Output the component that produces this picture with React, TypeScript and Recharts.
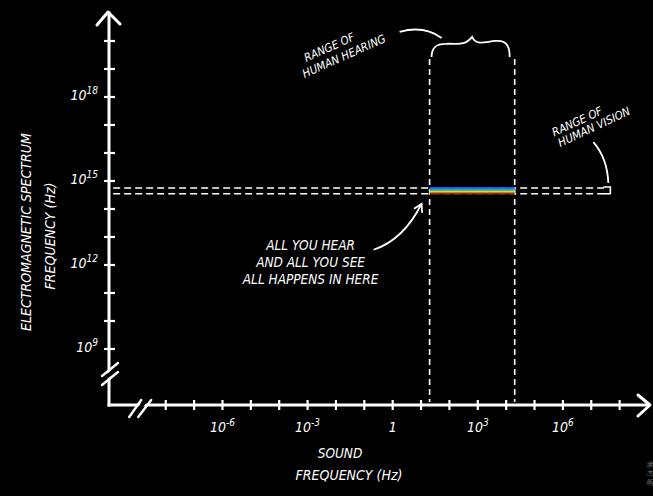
import { ScatterChart, Scatter, XAxis, YAxis, ReferenceArea, ReferenceDot } from 'recharts';

// sound frequency axis (Hz); drawn on a log10 scale
const soundTicks = [1e-8, 1e-7, 1e-6, 1e-5, 1e-4, 1e-3, 1e-2, 1e-1, 1, 1e1, 1e2, 1e3, 1e4, 1e5, 1e6, 1e7, 1e8];
// electromagnetic frequency axis (Hz); log10 scale too
const emTicks = [1e9, 1e10, 1e11, 1e12, 1e13, 1e14, 1e15, 1e16, 1e17, 1e18, 1e19, 1e20];

// ranges
const hearingRange = [20, 20000]; // Hz
const visionRange = [3.5e14, 5.6e14]; // Hz

// axis extents and how far the guide lines are drawn
const soundDomain = [1e-10, 1e9];
const emDomain = [1e7, 1e21];
const hearingLineTop = 2.7e19;
const visionLineFrom = 1.4e-10;
const visionLineTo = 4e7;

const lg = (v: number) => Math.log10(v);

// corners of the "you hear / you see" box
const corners = [
  { s: lg(hearingRange[0]), em: lg(visionRange[0]) },
  { s: lg(hearingRange[1]), em: lg(visionRange[1]) },
];

const hand = {
  fontFamily: "'DejaVu Sans Condensed', 'Liberation Sans Narrow', 'DejaVu Sans', sans-serif",
  fontStyle: 'italic' as const,
};

const SoundTick = (props: any) => {
  const { x, y, payload } = props;
  const e = Math.round(payload.value);
  return (
    <g>
      <line x1={x} x2={x} y1={y - 5} y2={y + 5} stroke="#fff" strokeWidth={2.2} />
      {e % 3 === 0 && (
        <text x={x} y={y + 27} textAnchor="middle" fill="#fff" fontSize={14} style={hand}>
          {e === 0 ? '1' : (
            <>
              10<tspan dy={-6} fontSize={10}>{e}</tspan>
            </>
          )}
        </text>
      )}
    </g>
  );
};

const EmTick = (props: any) => {
  const { x, y, payload } = props;
  const e = Math.round(payload.value);
  return (
    <g>
      <line x1={x - 5} x2={x + 6} y1={y} y2={y} stroke="#fff" strokeWidth={2.2} />
      {e % 3 === 0 && (
        <text x={x - 11} y={y + 3} textAnchor="end" fill="#fff" fontSize={14} style={hand}>
          10<tspan dy={-6} fontSize={10}>{e}</tspan>
        </text>
      )}
    </g>
  );
};

const XTitle = (props: any) => {
  const vb = props.viewBox ?? { x: 109, y: 405, width: 539, height: 30 };
  const sx = vb.x + vb.width - 2;
  return (
    <g fill="#fff" style={hand}>
      <text x={vb.x + 231} y={vb.y + 53} textAnchor="middle" fontSize={13.5}>SOUND</text>
      <text x={vb.x + 240} y={vb.y + 75} textAnchor="middle" fontSize={14}>FREQUENCY (Hz)</text>
      <text fontSize={7} fill="#777" style={{ fontFamily: "'Noto Sans CJK SC'" }}>
        <tspan x={sx} y={vb.y + 62}>余</tspan>
        <tspan x={sx} y={vb.y + 71}>杰</tspan>
        <tspan x={sx} y={vb.y + 80}>明</tspan>
      </text>
    </g>
  );
};

const YTitle = (props: any) => {
  const vb = props.viewBox ?? { x: 49, y: 13, width: 60, height: 392 };
  const cy = vb.y + 219;
  return (
    <g fill="#fff" style={hand} fontSize={14}>
      <text transform={`translate(${vb.x - 18},${cy}) rotate(-90)`} textAnchor="middle">ELECTROMAGNETIC SPECTRUM</text>
      <text transform={`translate(${vb.x + 6},${cy + 4}) rotate(-90)`} textAnchor="middle">FREQUENCY (Hz)</text>
    </g>
  );
};

const HearingBand = (p: any) => {
  const { x, y, width, height } = p;
  const r = x + width;
  const b = y + height;
  const m = (x + r) / 2;
  return (
    <g fill="none" stroke="#fff" strokeWidth={1.6}>
      <line x1={x} x2={x} y1={y + 2} y2={b - 3} strokeDasharray="6 4" />
      <line x1={r} x2={r} y1={y + 2} y2={b - 3} strokeDasharray="6 4" />
      <path
        strokeWidth={1.8}
        d={`M${x + 2},${y} C${x + 2},${y - 9} ${x + 6},${y - 13} ${x + 16},${y - 13} C${m - 16},${y - 14} ${m - 8},${y - 10} ${m},${y - 20} C${m + 4},${y - 11} ${m + 12},${y - 15} ${r - 19},${y - 16} C${r - 9},${y - 17} ${r - 5},${y - 12} ${r - 5},${y}`}
      />
      <path strokeWidth={1.8} d={`M${x - 30},${y - 25} Q${x - 6},${y - 32} ${x + 12},${y - 19}`} />
      <g transform={`translate(${x - 125},${y + 21}) rotate(-24)`} fill="#fff" stroke="none" style={hand} fontSize={11.5}>
        <text x={8} y={-14}>RANGE  OF</text>
        <text x={0} y={0}>HUMAN HEARING</text>
      </g>
    </g>
  );
};

const VisionBand = (p: any) => {
  const { x, y, width, height } = p;
  const r = x + width;
  const b = y + height;
  return (
    <g fill="none" stroke="#fff" strokeWidth={1.6}>
      <line x1={x} x2={r - 2} y1={y} y2={y} strokeDasharray="7 4" />
      <line x1={x} x2={r - 2} y1={b} y2={b} strokeDasharray="7 4" />
      <path d={`M${r - 5},${y - 1} H${r + 2} V${b} H${r - 5}`} />
      <path strokeWidth={1.8} d={`M${r - 15},${y - 46} Q${r - 1},${y - 30} ${r},${y - 5}`} />
      <g transform={`translate(${r - 48},${y - 41}) rotate(-25)`} fill="#fff" stroke="none" style={hand} fontSize={11.5}>
        <text x={-1} y={-12}>RANGE  OF</text>
        <text x={0} y={0}>HUMAN VISION</text>
      </g>
    </g>
  );
};

// the visible spectrum, slightly taller so it covers the dashed edges
const SpectrumBar = (p: any) => (
  <rect x={p.x} y={p.y - 1} width={p.width} height={p.height + 2} fill="url(#spectrum)" />
);

const HereNote = (p: any) => {
  const { cx, cy } = p;
  const tx = cx - 8;
  const ty = cy + 10;
  return (
    <g>
      <path d={`M${cx - 56},${cy + 56} Q${cx - 26},${cy + 46} ${tx},${ty}`} fill="none" stroke="#fff" strokeWidth={1.8} />
      <path d={`M${tx - 7.5},${ty + 5} L${tx},${ty} L${tx + 0.5},${ty + 9}`} fill="none" stroke="#fff" strokeWidth={1.8} />
      <g fill="#fff" style={hand} fontSize={13.5} textAnchor="middle">
        <text x={cx - 119} y={cy + 56}>ALL YOU HEAR</text>
        <text x={cx - 119} y={cy + 73}>AND ALL YOU SEE</text>
        <text x={cx - 119} y={cy + 90}>ALL HAPPENS IN HERE</text>
      </g>
    </g>
  );
};

const ArrowRight = (p: any) => (
  <path d={`M${p.cx - 10},${p.cy - 10} L${p.cx + 2},${p.cy} L${p.cx - 10},${p.cy + 11}`} fill="none" stroke="#fff" strokeWidth={3} strokeLinecap="round" strokeLinejoin="round" />
);

const ArrowUp = (p: any) => (
  <path d={`M${p.cx - 12},${p.cy + 12} L${p.cx - 1},${p.cy - 1} L${p.cx + 11},${p.cy + 11}`} fill="none" stroke="#fff" strokeWidth={3} strokeLinecap="round" strokeLinejoin="round" />
);

const BreakX = (p: any) => {
  const { cx, cy } = p;
  return (
    <g>
      <path d={`M${cx - 9},${cy + 12} L${cx + 3},${cy - 5} L${cx + 8},${cy - 5} L${cx - 4},${cy + 12} Z`} fill="#000" />
      <path d={`M${cx - 11},${cy + 12} L${cx + 1},${cy - 5} M${cx - 2},${cy + 12} L${cx + 11},${cy - 5}`} stroke="#fff" strokeWidth={2.4} strokeLinecap="round" />
    </g>
  );
};

const BreakY = (p: any) => {
  const { cx, cy } = p;
  return (
    <g>
      <path d={`M${cx - 7},${cy + 3} L${cx + 9},${cy - 10} L${cx + 9},${cy - 5} L${cx - 7},${cy + 8} Z`} fill="#000" />
      <path d={`M${cx - 7},${cy + 1} L${cx + 9},${cy - 12} M${cx - 7},${cy + 10} L${cx + 9},${cy - 3}`} stroke="#fff" strokeWidth={2.4} strokeLinecap="round" />
    </g>
  );
};

const App = () => {
  return (
    <div style={{ position: 'absolute', left: 0, top: 0, width: 653, height: 496, background: '#000' }}>
      <style>{'body{margin:0;background:#000}'}</style>
      <ScatterChart width={653} height={496} margin={{ top: 13, right: 5, bottom: 61, left: 49 }}>
        <defs>
          <linearGradient id="spectrum" x1="0" y1="0" x2="0" y2="1">
            <stop offset="0%" stopColor="#2a3bff" />
            <stop offset="22%" stopColor="#1a7fff" />
            <stop offset="42%" stopColor="#30c070" />
            <stop offset="60%" stopColor="#f0e030" />
            <stop offset="78%" stopColor="#b04010" />
            <stop offset="100%" stopColor="#300a04" />
          </linearGradient>
        </defs>
        <XAxis
          type="number"
          dataKey="s"
          domain={soundDomain.map(lg)}
          allowDataOverflow
          ticks={soundTicks.map(lg)}
          interval={0}
          tick={<SoundTick />}
          tickLine={false}
          tickSize={0}
          tickMargin={0}
          axisLine={{ stroke: '#fff', strokeWidth: 3, strokeLinecap: 'square' }}
          height={30}
          label={<XTitle />}
        />
        <YAxis
          type="number"
          dataKey="em"
          domain={emDomain.map(lg)}
          allowDataOverflow
          ticks={emTicks.map(lg)}
          interval={0}
          tick={<EmTick />}
          tickLine={false}
          tickSize={0}
          tickMargin={0}
          axisLine={{ stroke: '#fff', strokeWidth: 3, strokeLinecap: 'square' }}
          width={60}
          label={<YTitle />}
        />
        <ReferenceArea
          x1={lg(visionLineFrom)}
          x2={lg(visionLineTo)}
          y1={lg(visionRange[0])}
          y2={lg(visionRange[1])}
          ifOverflow="visible"
          shape={VisionBand}
        />
        <ReferenceArea
          x1={lg(hearingRange[0])}
          x2={lg(hearingRange[1])}
          y1={lg(emDomain[0])}
          y2={lg(hearingLineTop)}
          ifOverflow="visible"
          shape={HearingBand}
        />
        <ReferenceArea
          x1={lg(hearingRange[0])}
          x2={lg(hearingRange[1])}
          y1={lg(visionRange[0])}
          y2={lg(visionRange[1])}
          ifOverflow="visible"
          shape={SpectrumBar}
        />
        <Scatter data={corners} isAnimationActive={false} shape={() => <g />} />
        <ReferenceDot x={lg(hearingRange[0])} y={lg(visionRange[0])} r={1} ifOverflow="visible" shape={HereNote} />
        <ReferenceDot x={lg(soundDomain[1])} y={lg(emDomain[0])} r={1} ifOverflow="visible" shape={ArrowRight} />
        <ReferenceDot x={lg(soundDomain[0])} y={lg(emDomain[1])} r={1} ifOverflow="visible" shape={ArrowUp} />
        <ReferenceDot x={-8.9} y={lg(emDomain[0])} r={1} ifOverflow="visible" shape={BreakX} />
        <ReferenceDot x={lg(soundDomain[0])} y={8.07} r={1} ifOverflow="visible" shape={BreakY} />
      </ScatterChart>
    </div>
  );
};

export default App;
